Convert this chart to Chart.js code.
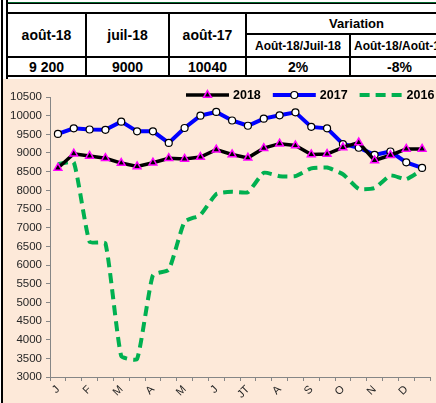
<!DOCTYPE html>
<html>
<head>
<meta charset="utf-8">
<script src="https://cdn.jsdelivr.net/npm/chart.js@4.4.1/dist/chart.umd.min.js"></script>
<style>
  body { margin: 0; width: 436px; height: 403px; overflow: hidden; background: #fff; position: relative; font-family: 'Liberation Sans', Arial, sans-serif; }
  .ligne { position: absolute; background: #000; }
  #tableau { position: absolute; left: 6px; top: 12px; border-collapse: collapse; table-layout: fixed; width: 460px; }
  #tableau td { border: 2px solid #000; padding: 0; text-align: center; font-weight: bold; color: #000; white-space: nowrap; overflow: hidden; }
  #zoneGraphe { position: absolute; left: 3px; top: 79px; width: 433px; height: 324px; background: #FDE9D9; }
</style>
</head>
<body>
<div class="ligne" style="left:1px;top:0;width:2px;height:403px"></div>
<div class="ligne" style="left:6px;top:0;width:2px;height:79px"></div>
<div class="ligne" style="left:8px;top:2px;right:0;height:1px;background:#00642A"></div>
<div class="ligne" style="left:8px;top:3px;right:0;height:1px"></div>
<table id="tableau">
  <colgroup><col style="width:79px"><col style="width:83px"><col style="width:77px"><col style="width:104px"><col style="width:117px"></colgroup>
  <tr style="height:21px">
    <td rowspan="2" style="font-size:14px">août-18</td>
    <td rowspan="2" style="font-size:14px">juil-18</td>
    <td rowspan="2" style="font-size:14px">août-17</td>
    <td colspan="2" style="font-size:13px">Variation</td>
  </tr>
  <tr style="height:23px">
    <td style="font-size:12px">Août-18/Juil-18</td>
    <td style="font-size:12px;text-align:left;padding-left:3px">Août-18/Août-17</td>
  </tr>
  <tr style="height:19px">
    <td style="font-size:14px">9 200</td>
    <td style="font-size:14px">9000</td>
    <td style="font-size:14px">10040</td>
    <td style="font-size:14px">2%</td>
    <td style="font-size:14px;text-align:left;padding-left:36px">-8%</td>
  </tr>
</table>
<div id="zoneGraphe"><canvas id="myChart" width="433" height="324"></canvas></div>
<script>
const mois = ['J', '', 'F', '', 'M', '', 'A', '', 'M', '', 'J', '', 'JT', '', 'A', '', 'S', '', 'O', '', 'N', '', 'D', ''];
const valeurs2018 = [8600, 8980, 8920, 8860, 8730, 8640, 8740, 8860, 8840, 8890, 9090, 8960, 8870, 9130, 9250, 9200, 8960, 8970, 9150, 9280, 8800, 8940, 9110, 9110];
const valeurs2017 = [9510, 9660, 9630, 9620, 9840, 9580, 9580, 9270, 9670, 10000, 10100, 9870, 9730, 9920, 10010, 10090, 9700, 9660, 9240, 9140, 8950, 9040, 8750, 8600];
const valeurs2016 = [8700, 8750, 6620, 6580, 3560, 3480, 5730, 5870, 7160, 7340, 7900, 7960, 7950, 8470, 8380, 8380, 8590, 8610, 8430, 8040, 8060, 8400, 8300, 8550];

// légende dessinée à la main, comme dans Excel (trait + marqueur)
const legende = {
  id: 'legende',
  afterDraw(chart) {
    const ctx = chart.ctx;
    const y = chart.chartArea.top - 2;
    let x = chart.chartArea.left + 136;
    ctx.save();
    ctx.font = 'bold 12.5px "Liberation Sans", Arial, sans-serif';
    ctx.textBaseline = 'middle';
    chart.data.datasets.forEach(ds => {
      ctx.beginPath();
      ctx.setLineDash(ds.borderDash || []);
      ctx.lineWidth = ds.borderWidth;
      ctx.strokeStyle = ds.borderColor;
      ctx.moveTo(x, y);
      ctx.lineTo(x + 43, y);
      ctx.stroke();
      ctx.setLineDash([]);
      if (ds.pointRadius > 0) {
        ctx.fillStyle = ds.pointBackgroundColor;
        ctx.strokeStyle = ds.pointBorderColor;
        ctx.lineWidth = ds.pointBorderWidth;
        Chart.helpers.drawPoint(ctx, { pointStyle: ds.pointStyle, radius: ds.pointRadius, borderWidth: ds.pointBorderWidth, rotation: 0 }, x + 21.5, y);
      }
      ctx.fillStyle = '#000';
      ctx.fillText(ds.label, x + 47, y + 1);
      x += 47 + ctx.measureText(ds.label).width + 12;
    });
    ctx.restore();
  }
};

const ctx = document.getElementById('myChart');
new Chart(ctx, {
  type: 'line',
  data: {
    labels: mois,
    datasets: [{
      label: '2018',
      data: valeurs2018,
      borderColor: '#000000',
      borderWidth: 3.5,
      pointStyle: 'triangle',
      pointRadius: 4.5,
      pointBackgroundColor: '#000000',
      pointBorderColor: '#FF00FF',
      pointBorderWidth: 1.5,
      tension: 0
    }, {
      label: '2017',
      data: valeurs2017,
      borderColor: '#0000FF',
      borderWidth: 4,
      pointStyle: 'circle',
      pointRadius: 3.5,
      pointBackgroundColor: '#FFFFFF',
      pointBorderColor: '#000000',
      pointBorderWidth: 1.2,
      tension: 0
    }, {
      label: '2016',
      data: valeurs2016,
      borderColor: '#00B050',
      borderWidth: 4,
      borderDash: [10, 6],
      pointRadius: 0,
      tension: 0.15
    }]
  },
  options: {
    responsive: false,
    animation: false,
    layout: { padding: { top: 18, right: 5, left: 0, bottom: 0 } },
    plugins: {
      legend: { display: false },
      tooltip: { enabled: false }
    },
    scales: {
      x: {
        offset: true,
        grid: { offset: true, drawOnChartArea: false, drawTicks: true, tickLength: 4, color: '#868686' },
        border: { color: '#868686', width: 1 },
        ticks: {
          autoSkip: false,
          minRotation: 45,
          maxRotation: 45,
          padding: 2,
          color: '#262626',
          font: { family: '"Liberation Sans", Arial, sans-serif', size: 11 }
        },
        afterFit(scale) { scale.height = 26; }
      },
      y: {
        min: 3000,
        max: 10500,
        grid: { drawOnChartArea: false, drawTicks: true, tickLength: 4, color: '#868686' },
        border: { color: '#868686', width: 1 },
        ticks: {
          stepSize: 500,
          padding: 4,
          color: '#262626',
          font: { family: '"Liberation Sans", Arial, sans-serif', size: 11.5 },
          callback: v => String(v)
        },
        afterFit(scale) { scale.width = 47; }
      }
    }
  },
  plugins: [legende]
});
</script>
</body>
</html>
